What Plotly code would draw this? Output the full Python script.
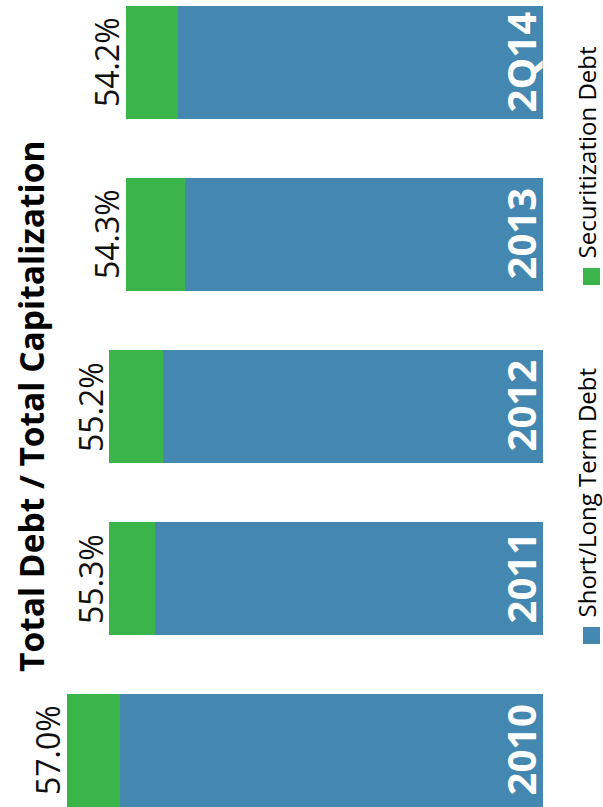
import plotly.graph_objects as go

# ---- data ----
categories = ["2010", "2011", "2012", "2013", "2Q14"]
short_long_debt = [54.5, 52.9, 52.5, 51.5, 51.8]      # bar segment (truncated % axis)
securitization_debt = [2.5, 2.1, 2.5, 2.75, 2.45]     # bar segment stacked on top
pct_labels = ["57.0%", "55.3%", "55.2%", "54.3%", "54.2%"]
series_names = ["Short/Long Term Debt", "Securitization Debt"]
chart_title = "Total Debt / Total Capitalization"

BLUE = "#4487b0"
GREEN = "#3bb54a"
FONT = "Open Sans"
W, H = 603, 807

fig = go.Figure()
fig.add_trace(go.Bar(y=categories, x=short_long_debt, orientation="h",
                     marker=dict(color=BLUE, line=dict(width=0)),
                     width=0.657, name=series_names[0], showlegend=False,
                     hoverinfo="skip"))
fig.add_trace(go.Bar(y=categories, x=securitization_debt, orientation="h",
                     marker=dict(color=GREEN, line=dict(width=0)),
                     width=0.657, name=series_names[1], showlegend=False,
                     hoverinfo="skip"))

annotations = []
totals = [a + b for a, b in zip(short_long_debt, securitization_debt)]
for i, (cat, tot, lab) in enumerate(zip(categories, totals, pct_labels)):
    annotations.append(dict(x=tot, y=i, xref="x", yref="y", text=lab,
                            textangle=-90, showarrow=False, xanchor="center",
                            yanchor="middle", xshift=-19,
                            font=dict(family=FONT, size=32, color="#111111")))
    annotations.append(dict(x=543 / W, y=i, xref="paper", yref="y",
                            text="<b>%s</b>" % cat, textangle=-90,
                            showarrow=False, xanchor="center", yanchor="middle",
                            xshift=-23,
                            font=dict(family=FONT, size=40, color="white")))

# title
annotations.append(dict(x=31 / W, y=1 - 406 / H, xref="paper", yref="paper",
                        text="<b>%s</b>" % chart_title, textangle=-90,
                        showarrow=False, xanchor="center", yanchor="middle",
                        font=dict(family=FONT, size=33.5, color="black")))

# custom rotated legend
shapes = []
legend_items = [(series_names[0], BLUE, 627), (series_names[1], GREEN, 268)]
for name, col, sq_top in legend_items:
    shapes.append(dict(type="rect", xref="paper", yref="paper",
                       x0=583 / W, x1=600 / W,
                       y0=1 - (sq_top + 17) / H, y1=1 - sq_top / H,
                       fillcolor=col, line=dict(width=0)))
    annotations.append(dict(x=585.5 / W, y=1 - (sq_top - 8) / H,
                            xref="paper", yref="paper", text=name,
                            textangle=-90, showarrow=False,
                            borderpad=0,
                            xanchor="center", yanchor="bottom",
                            font=dict(family=FONT, size=24, color="black")))

fig.update_layout(
    width=W, height=H,
    margin=dict(l=0, r=0, t=0, b=0),
    paper_bgcolor="white", plot_bgcolor="white",
    barmode="stack", bargap=0,
    xaxis=dict(range=[60.1, 34.8], domain=[0, 543 / W], visible=False,
               fixedrange=True),
    yaxis=dict(type="category", range=[-0.3285, 4.363], visible=False,
               fixedrange=True),
    annotations=annotations, shapes=shapes,
    showlegend=False,
)

fig.write_html("out.html", config={"displayModeBar": False},
               post_script="document.body.style.margin='0';document.body.style.overflow='hidden';")
